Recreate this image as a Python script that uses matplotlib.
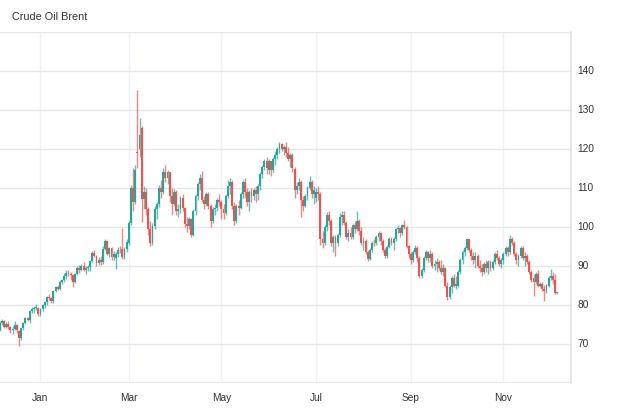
import matplotlib
matplotlib.use("Agg")
import matplotlib.pyplot as plt
from matplotlib.transforms import offset_copy
import numpy as np
import pandas as pd

# ---- data (daily candles, Brent) ----
dates = pd.bdate_range("2021-12-07", "2022-12-06")
dates = dates[dates != pd.Timestamp("2022-04-15")]

opens = [73.6, 75.4, 75.8, 74.4, 75.2, 74.4, 73.7, 73.9, 75.0, 73.3, 71.5, 74.0, 75.3, 76.6, 76.1, 78.4, 78.9, 79.2, 79.3,
         77.6, 79.0, 80.0, 80.8, 82.0, 81.8, 80.9, 83.6, 84.5, 84.2, 86.0, 86.4, 87.4, 88.3, 88.0, 87.6, 86.0, 88.0, 89.6, 89.0, 90.0,
         89.1, 89.4, 89.8, 91.2, 93.3, 92.6, 90.7, 91.6, 91.0, 94.4, 96.3, 93.2, 94.5, 92.4, 92.0, 93.1, 94.2, 94.3, 92.2, 94.4,
         96.0, 101.0, 110.0, 106.5, 119.3, 120.0, 125.4, 107.2, 109.0, 104.5, 99.5, 96.0, 100.2, 104.5, 105.8, 110.0, 109.0, 114.0, 112.5, 114.0, 108.0, 106.0, 109.0,
         104.0, 104.5, 107.5, 104.8, 100.8, 100.3, 102.0, 98.0, 104.0, 108.0, 111.0, 112.5, 107.0, 106.0, 108.5, 105.5, 101.5, 104.5, 105.0, 107.0,
         106.5, 104.5, 103.5, 108.0, 110.5, 111.5, 105.5, 101.5, 105.5, 105.0, 108.5, 111.5, 109.0, 106.5, 109.0, 108.0, 109.5, 108.5, 110.5, 113.5, 115.5, 117.0,
         114.5, 116.8, 114.5, 117.5, 118.5, 120.0, 121.3, 120.0, 120.5, 119.0, 117.5, 118.5, 115.0, 109.5, 110.5, 111.5, 107.0, 105.5, 108.0, 110.0, 111.5, 108.5,
         107.5, 109.0, 108.5, 97.0, 96.0, 100.0, 103.0, 101.5, 96.0, 97.5, 96.0, 98.0, 102.5, 103.0, 101.0, 97.5, 98.5, 97.5, 100.5, 99.5, 101.5,
         99.0, 96.0, 96.5, 93.5, 91.8, 94.0, 96.0, 95.8, 97.5, 98.5, 96.5, 94.0, 92.5, 95.0, 97.0, 96.0, 97.0, 99.5, 99.8, 98.5, 100.5, 100.0, 95.0,
         93.0, 91.5, 93.5, 94.5, 92.0, 87.5, 89.0, 92.0, 93.5, 92.0, 93.0, 90.0, 90.5, 91.0, 89.5, 88.5, 89.5, 85.0, 82.0, 84.5, 87.0, 85.0,
         85.0, 88.5, 91.5, 93.5, 94.5, 96.8, 94.0, 92.5, 91.5, 92.5, 90.0, 89.5, 88.5, 90.5, 89.5, 91.0, 89.5, 91.0, 93.0, 92.0, 90.5,
         91.5, 93.0, 94.5, 93.5, 97.0, 96.0, 93.0, 91.5, 92.5, 94.5, 92.0, 92.5, 91.0, 88.5, 87.0, 86.0, 88.0, 85.0, 85.5, 84.0, 83.5, 85.0,
         87.0, 87.5, 86.5, 83.0]
highs = [75.9, 76.3, 76.1, 75.6, 75.9, 74.7, 74.6, 75.8, 75.2, 73.5, 74.2, 75.6, 76.8, 76.9, 78.7, 79.6, 79.8, 80.2, 79.5,
         79.3, 80.3, 81.0, 82.4, 82.9, 82.0, 83.8, 84.8, 85.0, 86.3, 86.6, 88.1, 89.0, 89.0, 88.4, 87.9, 88.3, 89.9, 90.2, 90.6, 90.9,
         89.9, 90.3, 91.6, 93.8, 94.0, 92.8, 92.2, 92.6, 95.0, 96.9, 96.4, 94.8, 94.8, 93.8, 93.5, 94.8, 95.2, 99.7, 94.8, 96.8,
         101.5, 110.8, 115.0, 116.0, 135.1, 128.0, 126.0, 110.5, 110.0, 105.0, 101.5, 101.0, 105.5, 106.5, 110.8, 112.0, 115.0, 116.0, 114.5, 114.2, 110.0, 109.8, 109.5,
         106.0, 108.0, 108.5, 105.0, 102.5, 102.5, 102.2, 104.5, 108.5, 111.5, 113.5, 114.3, 108.0, 109.0, 109.0, 106.0, 105.0, 106.0, 107.5, 108.5,
         107.0, 106.0, 108.5, 112.0, 112.5, 112.0, 106.5, 106.0, 107.0, 109.0, 112.0, 112.5, 110.0, 109.5, 110.0, 110.0, 110.5, 111.0, 114.0, 116.0, 117.5, 118.0,
         117.5, 117.0, 118.0, 119.5, 120.5, 121.8, 121.6, 121.0, 121.7, 120.5, 119.0, 119.0, 115.5, 111.5, 112.5, 112.0, 108.0, 108.5, 110.5, 113.0, 112.0, 110.5,
         110.0, 110.5, 109.0, 99.0, 100.5, 103.8, 104.0, 102.0, 98.0, 98.0, 98.5, 103.5, 104.0, 104.0, 101.5, 99.5, 100.0, 100.8, 101.5, 104.0, 102.0,
         100.0, 97.5, 97.0, 94.0, 94.5, 96.5, 97.0, 98.0, 99.0, 98.8, 96.8, 94.5, 95.5, 97.5, 97.5, 97.5, 99.8, 100.5, 100.0, 100.8, 101.7, 100.3, 95.5,
         93.5, 94.0, 95.5, 95.0, 92.5, 89.5, 92.5, 94.0, 93.8, 94.0, 93.5, 91.5, 92.0, 91.5, 91.5, 90.5, 89.8, 86.0, 85.0, 87.5, 88.0, 87.5,
         89.0, 92.0, 94.0, 95.0, 97.2, 97.0, 94.5, 93.5, 93.5, 93.0, 91.5, 90.5, 91.0, 91.5, 91.5, 91.5, 91.5, 93.5, 94.0, 92.5, 92.0,
         93.5, 95.0, 95.0, 98.0, 97.5, 96.5, 93.5, 93.0, 95.0, 95.0, 93.5, 93.0, 91.5, 89.0, 88.0, 88.5, 89.0, 86.0, 86.0, 85.0, 85.5, 87.5,
         89.3, 88.4, 88.0, 83.4]
lows = [73.4, 74.9, 74.1, 74.0, 73.9, 72.9, 72.6, 73.6, 72.8, 69.5, 71.1, 73.5, 75.0, 75.8, 75.4, 78.0, 78.0, 78.6, 77.1,
        77.1, 78.5, 79.3, 79.9, 81.4, 80.4, 80.6, 83.3, 83.8, 83.8, 85.4, 85.8, 86.6, 87.4, 86.4, 84.6, 85.6, 87.6, 88.1, 88.6, 88.6,
        88.0, 88.7, 88.6, 90.8, 92.2, 90.0, 90.2, 90.2, 90.5, 94.0, 92.8, 92.4, 91.6, 91.5, 89.3, 92.3, 93.3, 91.8, 91.9, 93.6,
        95.5, 100.5, 104.0, 106.0, 115.0, 118.0, 101.3, 104.5, 103.0, 98.0, 95.0, 95.5, 99.5, 102.0, 105.0, 107.5, 108.5, 111.5, 111.0, 106.5, 103.0, 105.5, 103.0,
        102.5, 103.5, 104.0, 100.0, 98.8, 99.5, 97.5, 97.8, 103.0, 107.0, 109.5, 106.5, 104.5, 105.5, 104.5, 100.0, 101.0, 103.0, 104.0, 105.5,
        102.0, 102.0, 103.0, 107.5, 108.5, 104.5, 100.5, 101.0, 103.0, 104.5, 107.5, 107.5, 105.5, 104.0, 106.5, 107.0, 106.5, 107.0, 109.5, 112.5, 114.5, 113.5,
        113.5, 113.0, 114.0, 116.0, 117.5, 119.0, 119.5, 118.5, 118.0, 117.0, 115.5, 114.0, 107.5, 108.5, 109.5, 102.5, 104.0, 105.0, 107.0, 109.5, 107.5, 106.0,
        106.5, 107.0, 95.5, 94.5, 95.5, 99.0, 100.5, 95.0, 93.5, 92.5, 95.0, 97.5, 100.5, 100.5, 97.0, 96.5, 97.0, 97.0, 98.5, 99.0, 98.0,
        95.5, 94.0, 93.0, 91.2, 91.5, 93.5, 95.0, 95.5, 96.5, 95.5, 93.5, 92.0, 92.0, 94.5, 95.5, 94.0, 96.5, 98.5, 97.5, 98.0, 99.5, 94.5, 92.0,
        90.5, 91.0, 93.0, 91.0, 87.0, 86.8, 88.5, 91.5, 91.0, 91.0, 89.5, 89.0, 88.5, 89.0, 88.0, 87.5, 84.5, 81.2, 81.5, 83.0, 84.5, 84.0,
        84.5, 88.0, 90.5, 92.5, 94.0, 93.5, 91.5, 90.5, 89.5, 89.5, 88.5, 87.5, 88.0, 88.5, 88.0, 88.8, 89.0, 90.5, 91.5, 90.0, 89.5,
        90.5, 92.5, 92.5, 93.0, 95.5, 92.5, 90.5, 90.0, 92.0, 91.5, 90.0, 90.5, 88.0, 86.0, 82.4, 85.5, 84.5, 84.5, 83.5, 81.1, 83.0, 84.5,
        86.5, 85.5, 82.8, 82.9]
closes = [75.4, 75.8, 74.4, 75.2, 74.4, 73.7, 73.9, 75.0, 73.5, 71.5, 74.0, 75.3, 76.6, 76.1, 78.4, 78.9, 79.2, 79.3, 77.6,
          79.0, 80.0, 80.8, 82.0, 81.8, 80.9, 83.6, 84.5, 84.2, 86.0, 86.4, 87.4, 88.3, 88.0, 87.6, 86.0, 88.0, 89.6, 89.0, 90.0, 89.1,
          89.4, 89.8, 91.2, 93.3, 92.6, 90.7, 91.6, 91.0, 94.4, 96.3, 93.2, 94.5, 92.4, 93.0, 93.1, 94.2, 94.0, 92.2, 94.4, 96.2,
          101.0, 110.0, 106.5, 114.5, 119.0, 123.7, 107.2, 109.0, 104.5, 99.5, 96.0, 100.2, 104.5, 105.8, 110.0, 109.0, 114.0, 112.5, 114.0, 108.0, 106.0, 109.0, 104.0,
          104.5, 107.5, 104.8, 100.8, 100.3, 102.0, 98.0, 104.0, 108.0, 111.0, 112.5, 107.0, 106.0, 108.5, 105.5, 101.5, 104.5, 105.0, 107.0, 106.5,
          104.5, 103.5, 108.0, 110.5, 111.5, 105.5, 101.5, 105.5, 105.0, 108.5, 111.5, 109.0, 106.5, 109.0, 108.0, 109.5, 108.5, 110.5, 113.5, 115.5, 117.0, 115.0,
          116.8, 114.5, 117.5, 118.5, 120.0, 121.3, 120.0, 120.5, 119.0, 117.5, 118.5, 115.0, 109.5, 110.5, 111.5, 107.0, 105.5, 108.0, 110.0, 111.5, 108.5, 109.5,
          109.0, 108.5, 97.0, 96.0, 100.0, 103.0, 101.5, 96.0, 97.5, 96.0, 98.0, 102.5, 103.0, 101.0, 97.5, 98.5, 97.5, 100.5, 99.5, 101.5, 99.0,
          96.0, 96.5, 93.5, 91.8, 94.0, 96.0, 95.8, 97.5, 98.5, 96.5, 94.0, 92.5, 95.0, 97.0, 96.0, 97.0, 99.5, 99.8, 98.5, 100.5, 100.0, 95.0, 93.0,
          91.5, 93.5, 94.5, 92.0, 87.5, 89.0, 92.0, 93.5, 92.0, 93.0, 90.0, 90.5, 91.0, 89.5, 88.5, 89.5, 85.0, 82.0, 84.5, 87.0, 85.0, 85.5,
          88.5, 91.5, 93.5, 94.5, 96.8, 94.0, 92.5, 91.5, 92.5, 90.0, 89.5, 88.5, 90.5, 89.5, 91.0, 89.5, 91.0, 93.0, 92.0, 90.5, 91.5,
          93.0, 94.5, 93.5, 97.0, 96.0, 93.0, 91.5, 92.5, 94.5, 92.0, 92.5, 91.0, 88.5, 86.5, 86.0, 88.0, 85.0, 85.5, 84.0, 83.5, 85.0, 87.0,
          87.5, 86.5, 83.0, 83.3]

month_labels = ["Jan", "Mar", "May", "Jul", "Sep", "Nov"]
price_ticks = [70, 80, 90, 100, 110, 120, 130, 140]

UP = "#26a69a"
DOWN = "#ef5350"
TXT = "#333333"
FONT = "Liberation Sans"

n = min(len(dates), len(opens), len(highs), len(lows), len(closes))
o = np.array(opens[:n]); h = np.array(highs[:n]); l = np.array(lows[:n]); c = np.array(closes[:n])
x = np.arange(n)
up = c >= o
cols = np.where(up, UP, DOWN)

fig = plt.figure(figsize=(6.2, 4.11), dpi=100)
ax = fig.add_axes([0, 28 / 411, 570.8 / 620, 351 / 411])
XR = 265.3
ax.set_ylim(60, 150)
ax.set_xlim(0.19, XR)

ax.vlines(x, l, h, colors=cols, linewidth=1.0, alpha=0.7, zorder=3)
body = np.maximum(np.abs(c - o), 0.2)
ax.bar(x, body, bottom=np.minimum(o, c), width=0.88, color=cols, linewidth=0, zorder=4)

# grid
d = pd.DatetimeIndex(dates[:n])
month_pos = []
for lab in month_labels:
    m = pd.Timestamp(f"2022-{lab}-01").month
    month_pos.append(int(np.where((d.year == 2022) & (d.month == m))[0][0]))
for p in month_pos:
    ax.axvline(p, color="#eef1f5", linewidth=1.0, zorder=0)
for yv in range(60, 151, 10):
    ax.axhline(yv, color="#e6e6e6", linewidth=1.0, zorder=1)

for s in ["left", "top", "bottom", "right"]:
    ax.spines[s].set_visible(False)
ax.axvline(XR, color="#e3e3e3", linewidth=1.2, zorder=2, clip_on=False)
ax.axhline(60, color="#e6e6e6", linewidth=1.5, zorder=2)
ax.set_xticks([])
ax.set_yticks([])

# month labels
trans = offset_copy(ax.transData, fig=fig, x=0, y=-10.5, units="points")
for p, lab in zip(month_pos, month_labels):
    ax.text(p, 60, lab, transform=trans, ha="center", va="center",
            fontsize=7.3, color=TXT, family=FONT, clip_on=False)

# price labels
ytrans = offset_copy(ax.transData, fig=fig, x=4.5, y=0, units="points")
for pv in price_ticks:
    ax.text(XR, pv, str(pv), transform=ytrans, ha="left", va="center",
            fontsize=7.3, color=TXT, family=FONT, clip_on=False)

fig.text(11.5 / 620, 1 - 17 / 411, "Crude Oil Brent", ha="left", va="center",
         fontsize=7.8, color=TXT, family=FONT)

fig.savefig("out.png", dpi=100)
